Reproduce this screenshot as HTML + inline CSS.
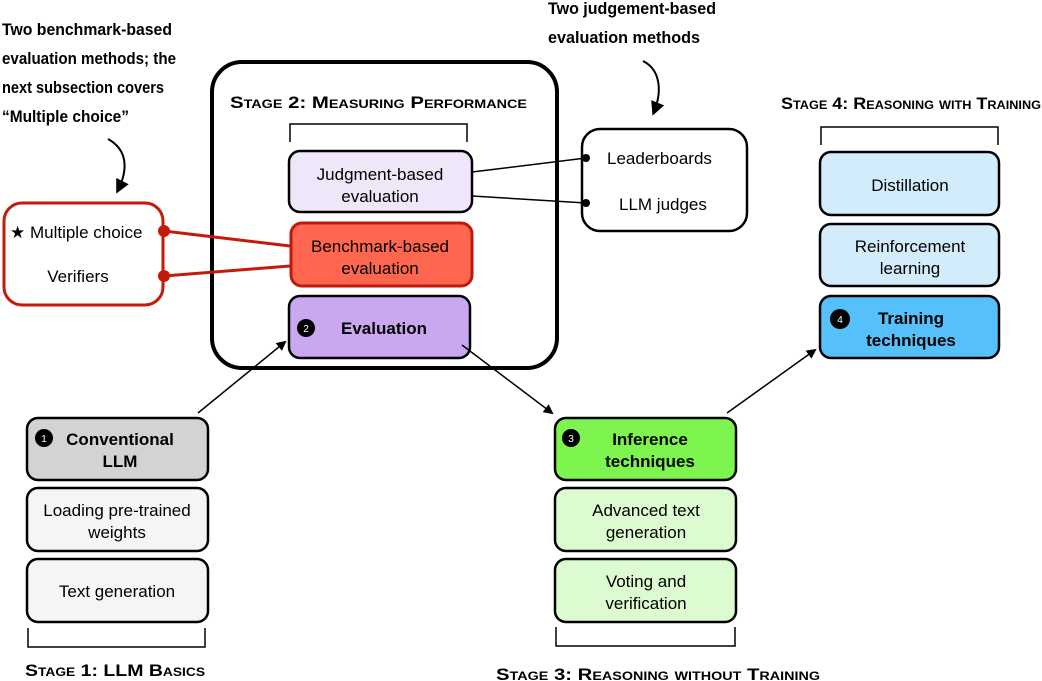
<!DOCTYPE html>
<html><head><meta charset="utf-8"><style>
html,body{margin:0;padding:0;background:#fff;}
svg{display:block;}
text{font-family:"Liberation Sans",sans-serif;fill:#000;}
.ann{font-family:"Liberation Sans Narrow","Liberation Sans",sans-serif;font-weight:bold;font-size:17px;}
.t{font-size:17px;text-anchor:middle;}
.b{font-weight:bold;}
.st{font-weight:bold;font-variant:small-caps;font-size:17px;}
.box{stroke:#000;stroke-width:2.5;}
</style></head><body>
<svg width="1042" height="681" viewBox="0 0 1042 681" xmlns="http://www.w3.org/2000/svg">
<defs>
<marker id="ah" markerWidth="10" markerHeight="10" refX="8" refY="5" orient="auto" markerUnits="userSpaceOnUse">
<path d="M0,0 L10,5 L0,10 z" fill="#000"/>
</marker>
<marker id="ah2" markerWidth="14" markerHeight="14" refX="10" refY="7" orient="auto" markerUnits="userSpaceOnUse">
<path d="M0,0 L14,7 L0,14 z" fill="#000"/>
</marker>
</defs>

<text class="ann" x="2" y="35" textLength="170" lengthAdjust="spacingAndGlyphs">Two benchmark-based</text>
<text class="ann" x="2" y="64" textLength="174" lengthAdjust="spacingAndGlyphs">evaluation methods; the</text>
<text class="ann" x="2" y="93" textLength="162" lengthAdjust="spacingAndGlyphs">next subsection covers</text>
<text class="ann" x="2" y="122" textLength="127" lengthAdjust="spacingAndGlyphs">“Multiple choice”</text>
<path d="M108,139 C128,150 128,170 118,190" fill="none" stroke="#000" stroke-width="2" marker-end="url(#ah2)"/>

<text class="ann" x="548" y="14" textLength="168" lengthAdjust="spacingAndGlyphs">Two judgement-based</text>
<text class="ann" x="548" y="43" textLength="152" lengthAdjust="spacingAndGlyphs">evaluation methods</text>
<path d="M643,61 C661,70 662,92 654,112" fill="none" stroke="#000" stroke-width="2" marker-end="url(#ah2)"/>

<rect x="212" y="62" width="345" height="306" rx="30" fill="none" stroke="#000" stroke-width="4"/>
<text class="st" x="230" y="108" textLength="297" lengthAdjust="spacingAndGlyphs">Stage 2: Measuring Performance</text>
<path d="M290,142 V124 H467 V142" fill="none" stroke="#000" stroke-width="1.5"/>

<rect class="box" x="289" y="151" width="183" height="61" rx="11" fill="#f0e6fa"/>
<text class="t" x="380" y="180">Judgment-based</text>
<text class="t" x="380" y="202">evaluation</text>

<rect x="291" y="223" width="181" height="63" rx="11" fill="#ff6650" stroke="#c0180c" stroke-width="3"/>
<text class="t" x="380" y="252">Benchmark-based</text>
<text class="t" x="380" y="274">evaluation</text>

<rect class="box" x="289" y="296" width="181" height="62" rx="11" fill="#c9a8f0"/>
<circle cx="306" cy="328" r="9" fill="#000"/>
<text x="306" y="332" font-size="10" text-anchor="middle" style="fill:#fff">2</text>
<text class="t b" x="384" y="334">Evaluation</text>

<rect x="4" y="203" width="159" height="102" rx="18" fill="#fff" stroke="#c41a0a" stroke-width="3"/>
<text x="10" y="238" font-size="17">★ Multiple choice</text>
<text class="t" x="78" y="282">Verifiers</text>
<line x1="164" y1="231" x2="290" y2="246" stroke="#c41a0a" stroke-width="3"/>
<line x1="164" y1="276" x2="290" y2="266" stroke="#c41a0a" stroke-width="3"/>
<circle cx="164" cy="231" r="6" fill="#c41a0a"/>
<circle cx="164" cy="276" r="6" fill="#c41a0a"/>

<rect class="box" x="582" y="129" width="165" height="102" rx="18" fill="#fff"/>
<text x="607" y="164" font-size="17">Leaderboards</text>
<text x="619" y="210" font-size="17">LLM judges</text>
<line x1="472" y1="172" x2="586" y2="158" stroke="#000" stroke-width="1.5"/>
<line x1="472" y1="196" x2="586" y2="203" stroke="#000" stroke-width="1.5"/>
<circle cx="586" cy="158" r="4" fill="#000"/>
<circle cx="586" cy="203" r="4" fill="#000"/>

<text class="st" x="781" y="109" textLength="260" lengthAdjust="spacingAndGlyphs">Stage 4: Reasoning with Training</text>
<path d="M821,145 V127 H998 V145" fill="none" stroke="#000" stroke-width="1.5"/>
<rect class="box" x="820" y="152" width="179" height="63" rx="11" fill="#d3ecfc"/>
<text class="t" x="910" y="191">Distillation</text>
<rect class="box" x="820" y="224" width="179" height="62" rx="11" fill="#d3ecfc"/>
<text class="t" x="910" y="252">Reinforcement</text>
<text class="t" x="910" y="274">learning</text>
<rect class="box" x="820" y="296" width="179" height="62" rx="11" fill="#56c0fa"/>
<circle cx="840" cy="319" r="10" fill="#000"/>
<text x="840" y="323" font-size="10" text-anchor="middle" style="fill:#fff">4</text>
<text class="t b" x="911" y="324">Training</text>
<text class="t b" x="911" y="346">techniques</text>

<rect class="box" x="27" y="418" width="181" height="62" rx="11" fill="#d3d3d3"/>
<circle cx="44" cy="438" r="9" fill="#000"/>
<text x="44" y="442" font-size="10" text-anchor="middle" style="fill:#fff">1</text>
<text class="t b" x="120" y="445">Conventional</text>
<text class="t b" x="120" y="467">LLM</text>
<rect class="box" x="27" y="488" width="181" height="63" rx="11" fill="#f5f5f5"/>
<text class="t" x="117" y="516">Loading pre-trained</text>
<text class="t" x="117" y="538">weights</text>
<rect class="box" x="27" y="559" width="181" height="63" rx="11" fill="#f5f5f5"/>
<text class="t" x="117" y="597">Text generation</text>
<path d="M28,628 V647 H205 V628" fill="none" stroke="#000" stroke-width="1.5"/>
<text class="st" x="25" y="676" textLength="180" lengthAdjust="spacingAndGlyphs">Stage 1: LLM Basics</text>

<rect class="box" x="555" y="418" width="181" height="62" rx="11" fill="#7ef54e"/>
<circle cx="571" cy="438" r="9" fill="#000"/>
<text x="571" y="442" font-size="10" text-anchor="middle" style="fill:#fff">3</text>
<text class="t b" x="650" y="445">Inference</text>
<text class="t b" x="650" y="467">techniques</text>
<rect class="box" x="555" y="488" width="181" height="63" rx="11" fill="#ddfbd0"/>
<text class="t" x="646" y="516">Advanced text</text>
<text class="t" x="646" y="538">generation</text>
<rect class="box" x="555" y="559" width="181" height="63" rx="11" fill="#ddfbd0"/>
<text class="t" x="646" y="587">Voting and</text>
<text class="t" x="646" y="609">verification</text>
<path d="M556,627 V646 H735 V627" fill="none" stroke="#000" stroke-width="1.5"/>
<text class="st" x="496" y="680" textLength="324" lengthAdjust="spacingAndGlyphs">Stage 3: Reasoning without Training</text>

<line x1="198" y1="413" x2="285" y2="342" stroke="#000" stroke-width="1.5" marker-end="url(#ah)"/>
<line x1="462" y1="345" x2="552" y2="413" stroke="#000" stroke-width="1.5" marker-end="url(#ah)"/>
<line x1="727" y1="413" x2="815" y2="350" stroke="#000" stroke-width="1.5" marker-end="url(#ah)"/>
</svg>
</body></html>
